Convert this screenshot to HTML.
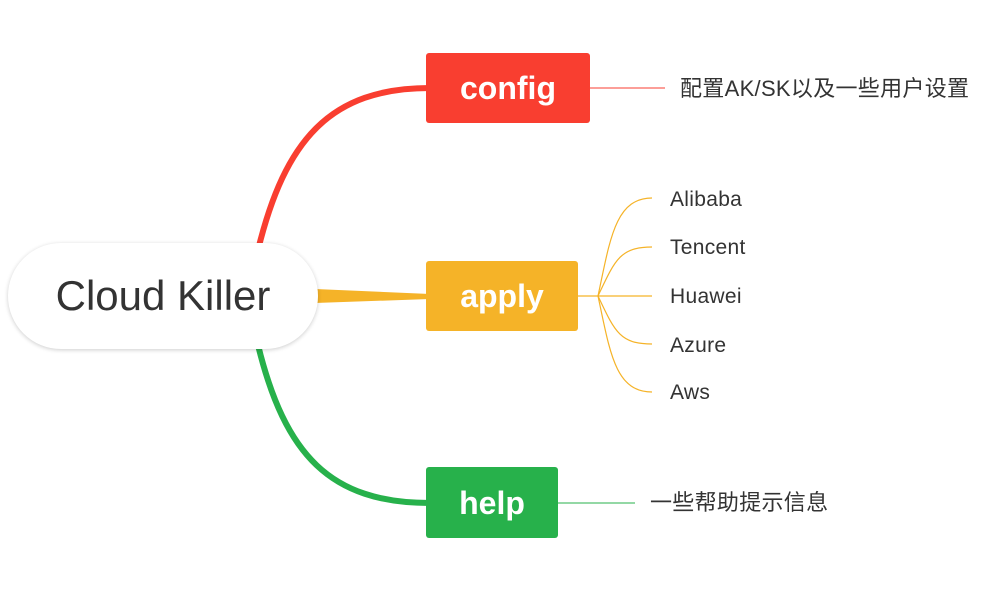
<!DOCTYPE html>
<html><head><meta charset="utf-8"><style>
body{margin:0;width:1000px;height:598px;background:#fff;overflow:hidden;position:relative;font-family:"Liberation Sans","Noto Sans CJK SC",sans-serif}
.b{position:absolute;color:#fff;font-weight:bold;font-size:32px;text-align:center;border-radius:3px}
.t{position:absolute;color:#333;font-size:21px;line-height:24px;letter-spacing:0.3px}
.c{font-size:22px}
</style></head><body>
<svg width="1000" height="598" style="position:absolute;left:0;top:0">
<path d="M258,250 C285,140 330,88 430,88" stroke="#F93E30" stroke-width="6" fill="none"/>
<path d="M258,345 C285,455 330,503 430,503" stroke="#27B14B" stroke-width="6" fill="none"/>
<polygon points="315,289 430,294 430,299 315,303" fill="#F5B328"/>
<line x1="590" y1="88" x2="665" y2="88" stroke="#F93E30" stroke-width="1"/>
<line x1="558" y1="503" x2="635" y2="503" stroke="#27B14B" stroke-width="1"/>
<g stroke="#F5B328" stroke-width="1.2" fill="none">
<line x1="578" y1="296" x2="652" y2="296"/>
<path d="M598,296 C610,240 615,198 652,198"/>
<path d="M598,296 C615,260 620,247 652,247"/>
<path d="M598,296 C615,332 620,344 652,344"/>
<path d="M598,296 C610,352 615,392 652,392"/>
</g>
</svg>
<div style="position:absolute;left:8px;top:243px;width:310px;height:106px;border-radius:53px;background:#fff;box-shadow:0 1px 4px rgba(0,0,0,0.2);text-align:center;line-height:106px;font-size:42px;color:#333">Cloud Killer</div>
<div class="b" style="left:426px;top:53px;width:164px;height:70px;line-height:70px;background:#F93E30">config</div>
<div class="b" style="left:426px;top:261px;width:152px;height:70px;line-height:70px;background:#F5B328">apply</div>
<div class="b" style="left:426px;top:467px;width:132px;height:71px;line-height:72px;background:#27B14B">help</div>
<div class="t c" style="left:680px;top:77px">配置AK/SK以及一些用户设置</div>
<div class="t c" style="left:650px;top:491px">一些帮助提示信息</div>
<div class="t" style="left:670px;top:188px">Alibaba</div>
<div class="t" style="left:670px;top:236px">Tencent</div>
<div class="t" style="left:670px;top:285px">Huawei</div>
<div class="t" style="left:670px;top:334px">Azure</div>
<div class="t" style="left:670px;top:381px">Aws</div>
</body></html>
